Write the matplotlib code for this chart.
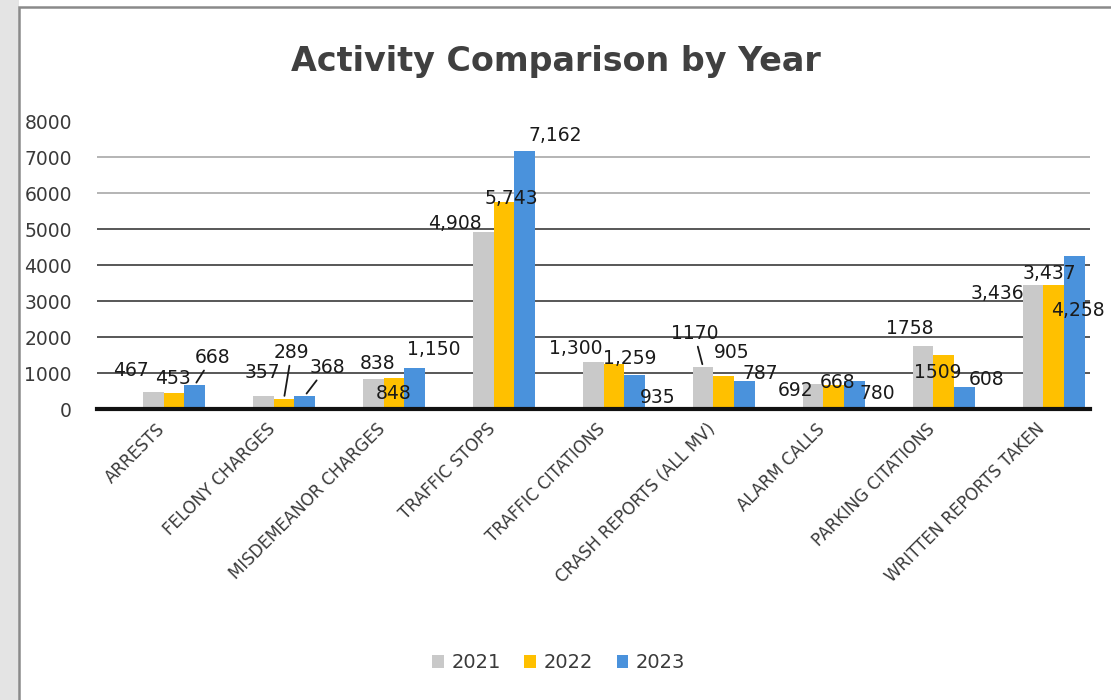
import numpy as np
import matplotlib
matplotlib.use("Agg")
import matplotlib.pyplot as plt
import matplotlib.transforms as mtransforms
from matplotlib.patches import Rectangle

# --- data ---
categories = ["ARRESTS", "FELONY CHARGES", "MISDEMEANOR CHARGES", "TRAFFIC STOPS",
              "TRAFFIC CITATIONS", "CRASH REPORTS (ALL MV)", "ALARM CALLS",
              "PARKING CITATIONS", "WRITTEN REPORTS TAKEN"]
years = ["2021", "2022", "2023"]
v2021 = [467, 357, 838, 4908, 1300, 1170, 692, 1758, 3436]
v2022 = [453, 289, 848, 5743, 1259, 905, 668, 1509, 3437]
v2023 = [668, 368, 1150, 7162, 935, 787, 780, 608, 4258]
labels2021 = ["467", "357", "838", "4,908", "1,300", "1170", "692", "1758", "3,436"]
labels2022 = ["453", "289", "848", "5,743", "1,259", "905", "668", "1509", "3,437"]
labels2023 = ["668", "368", "1,150", "7,162", "935", "787", "780", "608", "4,258"]

# label placement as in the original (dx from group centre, dy from bar top)
off2021 = [(-0.39, 616), (-0.20, 671), (-0.15, 440), (-0.45, 259), (-0.35, 394),
           (-0.27, 941), (-0.35, -164), (-0.31, 490), (-0.51, -214)]
off2022 = [(-0.01, 408), (0.07, 1294), (0.00, -404), (0.07, 118), (0.14, 158),
           (0.07, 678), (0.03, 82), (-0.06, -481), (-0.04, 341)]
off2023 = [(0.35, 776), (0.39, 799), (0.36, 517), (0.47, 449), (0.40, -602),
           (0.33, 213), (0.39, -363), (0.39, 198), (0.22, -1508)]
leaders = {(2, 0), (1, 1), (2, 1), (0, 5)}

colors = ["#c9c9c9", "#ffc000", "#4a92dc"]

fig = plt.figure(figsize=(11.11, 7.0), dpi=100)
fig.patch.set_facecolor("white")
# scanned-page look: grey strip and frame
fig.patches.append(Rectangle((0, 0), 0.017, 1, transform=fig.transFigure,
                             facecolor="#e4e4e4", edgecolor="none", zorder=-5))
fig.patches.append(Rectangle((0.017, -0.01), 1.0, 1.0, transform=fig.transFigure,
                             facecolor="none", edgecolor="#8a8a8a", lw=1.8, zorder=-4))

ax = fig.add_axes([0.0873, 0.4157, 0.894, 0.4114])
x = np.arange(len(categories)) + 0.0
w = 0.19
series = [v2021, v2022, v2023]
labels = [labels2021, labels2022, labels2023]
offs = [off2021, off2022, off2023]

for i, (vals, c, yr) in enumerate(zip(series, colors, years)):
    ax.bar(x + (i - 1) * w, vals, width=w, color=c, label=yr, zorder=3)

for i in range(3):
    for j in range(len(categories)):
        dx, dy = offs[i][j]
        tx, ty = x[j] + dx, series[i][j] + dy
        if (i, j) in leaders:
            ax.annotate(labels[i][j], xy=(x[j] + (i - 1) * w, series[i][j]),
                        xytext=(tx, ty), ha="center", va="center",
                        fontsize=13.5, color="#1a1a1a", zorder=5,
                        arrowprops=dict(arrowstyle="-", lw=1.3, color="#1a1a1a",
                                        shrinkA=1, shrinkB=2))
        else:
            ax.text(tx, ty, labels[i][j], ha="center", va="center",
                    fontsize=13.5, color="#1a1a1a", zorder=5)

ax.set_xlim(-0.7, 8.33)
ax.set_ylim(0, 8000)
ax.set_yticks(np.arange(0, 8001, 1000))
ax.set_yticklabels([str(v) for v in range(0, 8001, 1000)])
ax.tick_params(axis="y", length=0, pad=18, labelsize=13.5, labelcolor="#3a3a3a")
ax.set_xticks(x)
ax.set_xticklabels(categories, rotation=45, ha="right", rotation_mode="anchor",
                   fontsize=12, color="#3a3a3a")
ax.tick_params(axis="x", length=0, pad=8)
shift = mtransforms.ScaledTranslation(-18 / 100, 0, fig.dpi_scale_trans)
for lab in ax.get_xticklabels():
    lab.set_transform(lab.get_transform() + shift)

for gy in range(1000, 8000, 1000):
    gc = "#2a2a2a" if gy <= 5000 else "#a0a0a0"
    ax.axhline(gy, color=gc, lw=1.1, zorder=1)

for s in ["top", "right", "left"]:
    ax.spines[s].set_visible(False)
ax.spines["bottom"].set_linewidth(3)
ax.spines["bottom"].set_color("#111111")
ax.spines["bottom"].set_zorder(4)

fig.text(0.5, 0.912, "Activity Comparison by Year", ha="center", va="center",
         fontsize=24, fontweight="bold", color="#404040")

fig.legend(loc="center", bbox_to_anchor=(0.503, 0.053), ncol=3, frameon=False,
           fontsize=14, handlelength=0.6, handleheight=0.6, columnspacing=1.2,
           handletextpad=0.4, labelcolor="#3a3a3a")

fig.savefig("out.png", dpi=100)
